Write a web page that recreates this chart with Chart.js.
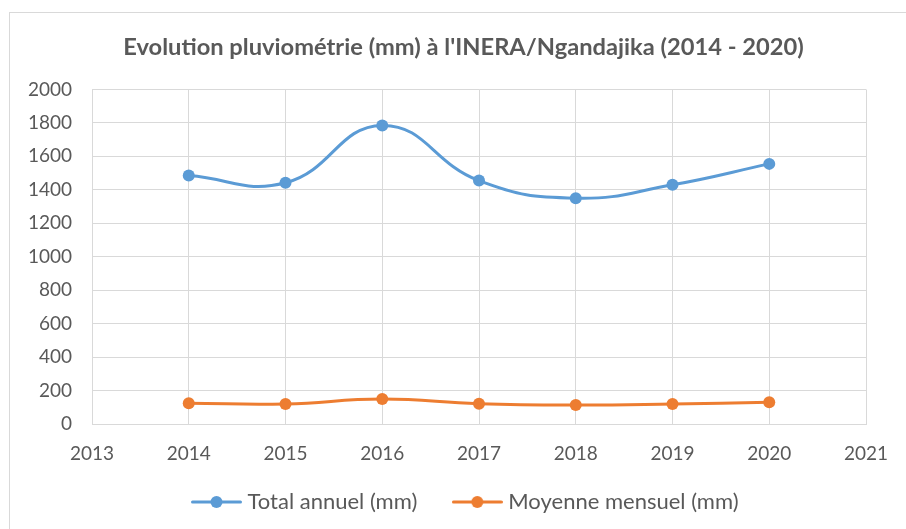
<!DOCTYPE html>
<html>
<head>
<meta charset="utf-8">
<script src="https://cdn.jsdelivr.net/npm/chart.js@4/dist/chart.umd.min.js"></script>
<style>
  html, body { margin: 0; padding: 0; background: #ffffff; overflow: hidden; width: 906px; height: 529px; }
  #frame { position: absolute; left: 9px; top: 12px; width: 908px; height: 530px; border: 1px solid #D9D9D9; box-sizing: border-box; background: #fff; }
  #wrap { position: absolute; left: 9px; top: 12px; width: 908px; height: 530px; }
</style>
</head>
<body>
<div id="frame"></div>
<div id="wrap"><canvas id="c" width="908" height="530"></canvas></div>
<script>
// ---- data ----
const years = [2014, 2015, 2016, 2017, 2018, 2019, 2020];
const totalAnnuel = [1485, 1442, 1785, 1455, 1350, 1430, 1555];
const moyenneMensuel = [124, 120, 149, 121, 113, 119, 130];
const xTickLabels = ['2013', '2014', '2015', '2016', '2017', '2018', '2019', '2020', '2021'];
const yTickLabels = ['0', '200', '400', '600', '800', '1000', '1200', '1400', '1600', '1800', '2000'];
const seriesNames = ['Total annuel (mm)', 'Moyenne mensuel (mm)'];
const chartTitle = "Evolution pluviométrie (mm) à l'INERA/Ngandajika (2014 - 2020)";

const BLUE = '#5B9BD5';
const ORANGE = '#ED7D31';
const TEXT = '#595959';
const GRID = '#D9D9D9';
const FONT = 'Lato, "Open Sans", sans-serif';

function legendIcon(color) {
  const c = document.createElement('canvas');
  c.width = 51; c.height = 16;
  const g = c.getContext('2d');
  g.strokeStyle = color; g.lineWidth = 3; g.lineCap = 'round';
  g.beginPath(); g.moveTo(1.5, 8); g.lineTo(49.5, 8); g.stroke();
  g.fillStyle = color;
  g.beginPath(); g.arc(25.5, 8, 6, 0, Math.PI * 2); g.fill();
  return c;
}
const icons = [legendIcon(BLUE), legendIcon(ORANGE)];

const toXY = (vals) => vals.map((v, i) => ({ x: years[i], y: v }));

// shift title/legend to the frame's centre and let x labels draw below the shortened axis box
const layoutTweak = {
  id: 'layoutTweak',
  afterLayout(chart) {
    if (chart.titleBlock) { chart.titleBlock.left += 26; chart.titleBlock.right += 26; }
    if (chart.legend) { chart.legend.left += 30; chart.legend.right += 30; }
    chart.scales.x.bottom += 40;
  }
};

new Chart(document.getElementById('c'), {
  type: 'line',
  plugins: [layoutTweak],
  data: {
    datasets: [
      { label: seriesNames[0], data: toXY(totalAnnuel), borderColor: BLUE, backgroundColor: BLUE,
        borderWidth: 3, pointRadius: 6, pointBorderWidth: 0, pointBackgroundColor: BLUE, tension: 0.45, fill: false },
      { label: seriesNames[1], data: toXY(moyenneMensuel), borderColor: ORANGE, backgroundColor: ORANGE,
        borderWidth: 3, pointRadius: 6, pointBorderWidth: 0, pointBackgroundColor: ORANGE, tension: 0.45, fill: false }
    ]
  },
  options: {
    responsive: false,
    animation: false,
    devicePixelRatio: 1,
    layout: { padding: { left: 0, right: 51, top: 0, bottom: 19 } },
    plugins: {
      title: {
        display: true, text: chartTitle, color: TEXT,
        font: { family: FONT, size: 23.7, weight: 'bold' },
        padding: { top: 21, bottom: 28 }
      },
      legend: {
        position: 'bottom',
        labels: {
          color: TEXT,
          font: { family: FONT, size: 22 },
          usePointStyle: true,
          pointStyleWidth: 40,
          padding: 40,
          generateLabels: (chart) => chart.data.datasets.map((ds, i) => ({
            text: ds.label, fillStyle: ds.borderColor, strokeStyle: ds.borderColor,
            lineWidth: 0, pointStyle: icons[i], datasetIndex: i, hidden: false, fontColor: TEXT
          }))
        }
      },
      tooltip: { enabled: false }
    },
    scales: {
      x: {
        type: 'linear', min: 2013, max: 2021,
        ticks: { stepSize: 1, color: TEXT, font: { family: FONT, size: 19 }, padding: 18,
                 callback: (v) => xTickLabels[Math.round(v - 2013)] },
        grid: { color: GRID, lineWidth: 1, drawTicks: false },
        border: { color: GRID, width: 1 },
        afterFit: (s) => { s.height = 27; }
      },
      y: {
        min: 0, max: 2000,
        ticks: { stepSize: 200, color: TEXT, font: { family: FONT, size: 19 }, padding: 20,
                 callback: (v) => yTickLabels[Math.round(v / 200)] },
        grid: { color: GRID, lineWidth: 1, drawTicks: false },
        border: { color: GRID, width: 1 },
        afterFit: (s) => { s.width = 83; }
      }
    }
  }
});
</script>
</body>
</html>
